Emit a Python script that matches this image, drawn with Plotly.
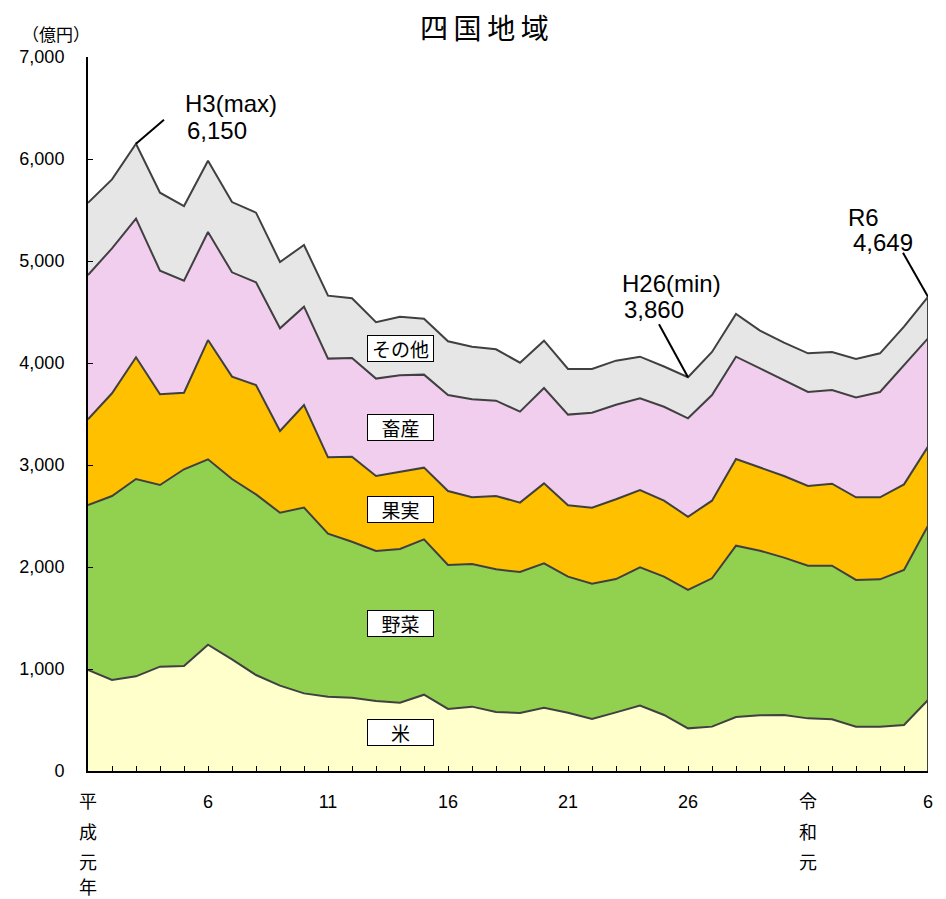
import plotly.graph_objects as go

# 平成元年 (i=0) ... 令和6年 (i=35)
years = list(range(36))
tick_vals = [0, 5, 10, 15, 20, 25, 30, 35]
tick_text = ["平", "6", "11", "16", "21", "26", "令", "6"]

rice = [990, 892, 928, 1023, 1029, 1238, 1095, 941, 837, 761, 729, 719, 686, 670, 748, 608, 631, 578,
        569, 621, 572, 510, 575, 641, 549, 418, 435, 529, 546, 549, 516, 507, 435, 435, 451, 696]
vegetables = [1618, 1804, 1935, 1781, 1929, 1818, 1768, 1771, 1695, 1821, 1598, 1529, 1471, 1506, 1523, 1412,
              1398, 1399, 1382, 1415, 1333, 1327, 1307, 1356, 1356, 1357, 1454, 1680, 1614, 1543, 1497, 1506,
              1438, 1444, 1520, 1709]
fruit = [840, 1007, 1193, 889, 751, 1169, 1003, 1072, 801, 1006, 748, 834, 735, 755, 703, 725, 654, 719,
         680, 784, 700, 745, 782, 758, 745, 718, 761, 850, 817, 800, 781, 804, 810, 804, 839, 775]
livestock = [1415, 1421, 1359, 1212, 1098, 1059, 1023, 1007, 1007, 964, 968, 967, 955, 948, 912, 941, 961,
             935, 892, 935, 889, 931, 927, 899, 921, 965, 1036, 1003, 971, 941, 922, 918, 980, 1033, 1170, 1062]
other = [707, 676, 735, 765, 732, 699, 689, 683, 650, 605, 617, 585, 553, 575, 548, 527, 516, 503, 480,
         464, 447, 428, 432, 408, 395, 402, 422, 418, 369, 366, 379, 373, 376, 379, 376, 407]

series_names = ["米", "野菜", "果実", "畜産", "その他"]
series_values = [rice, vegetables, fruit, livestock, other]
series_colors = ["#FFFFCC", "#92D050", "#FFC000", "#F2CEEE", "#E6E6E6"]
label_y = [377, 1448, 2559, 3365, 4147]

totals = [sum(v) for v in zip(*series_values)]

JP = "Noto Sans CJK JP"
NUM = "Liberation Sans, Noto Sans CJK JP"

fig = go.Figure()
for name, vals, col in zip(series_names, series_values, series_colors):
    fig.add_trace(go.Scatter(
        x=years, y=vals, name=name, stackgroup="one", mode="lines",
        line=dict(color="#404040", width=2), fillcolor=col, showlegend=False,
    ))

annotations = []
# series labels in boxes
for name, yv in zip(series_names, label_y):
    annotations.append(dict(
        x=13, y=yv, xref="x", yref="y", text=name, showarrow=False,
        font=dict(family=JP, size=19, color="black"),
        bgcolor="white", bordercolor="black", borderwidth=1, width=63, height=23,
    ))

# vertical era labels under the axis
for ch, ys in [("成", -60), ("元", -90), ("年", -115)]:
    annotations.append(dict(x=0, y=0, xref="x", yref="paper", yshift=ys, text=ch, showarrow=False,
                            font=dict(family=JP, size=18, color="black"), yanchor="middle"))
for ch, ys in [("和", -60), ("元", -90)]:
    annotations.append(dict(x=30, y=0, xref="x", yref="paper", yshift=ys, text=ch, showarrow=False,
                            font=dict(family=JP, size=18, color="black"), yanchor="middle"))

# title and unit
annotations.append(dict(x=0.4726, y=1, xref="paper", yref="paper", yshift=30,
                        text="四\u2009国\u2009地\u2009域",
                        showarrow=False, font=dict(family=JP, size=28, color="black"), yanchor="middle"))
annotations.append(dict(x=-0.038, y=1.0336, xref="paper", yref="paper", text="（億円）", showarrow=False,
                        font=dict(family=JP, size=17, color="black"), xanchor="center", yanchor="middle"))

# callouts
i_max = totals.index(max(totals))
i_min = totals.index(min(totals))
i_last = len(totals) - 1
callouts = [
    (i_max, "H3(max)", f"{totals[i_max]:,}", (3.96, 6549), (4.04, 6284), (28, 24)),
    (i_min, "H26(min)", f"{totals[i_min]:,}", (22.17, 4784), (22.25, 4520), (-29, 53)),
    (i_last, "R6", f"{totals[i_last]:,}", (31.58, 5431), (31.79, 5186), (-25, 44)),
]
shapes = []
for idx, t1, t2, p1, p2, (dx, dy) in callouts:
    annotations.append(dict(x=p1[0], y=p1[1], xref="x", yref="y", text=t1, showarrow=False,
                            xanchor="left", yanchor="middle", font=dict(family=NUM, size=24, color="black")))
    annotations.append(dict(x=p2[0], y=p2[1], xref="x", yref="y", text=t2, showarrow=False,
                            xanchor="left", yanchor="middle", font=dict(family=NUM, size=24, color="black")))
    shapes.append(dict(type="line", xref="x", yref="y", xsizemode="pixel", ysizemode="pixel",
                       xanchor=idx, yanchor=totals[idx], x0=0, y0=0, x1=dx, y1=dy,
                       line=dict(color="black", width=2)))

# right edge of the area
shapes.append(dict(type="line", xref="x", yref="y", x0=i_last, x1=i_last, y0=0, y1=totals[i_last],
                   line=dict(color="#404040", width=2)))

fig.update_layout(
    width=938, height=891,
    margin=dict(l=80, r=18, t=49, b=128),
    paper_bgcolor="white", plot_bgcolor="white",
    annotations=annotations, shapes=shapes,
    xaxis=dict(
        range=[0, 35], tickmode="array", tickvals=tick_vals, ticktext=tick_text,
        showgrid=False, zeroline=False, showline=True, linecolor="black", linewidth=2,
        ticks="inside", ticklen=5, tickcolor="black", tickwidth=1,
        ticklabelstandoff=13,
        tickfont=dict(family=NUM, size=18, color="black"),
        minor=dict(tickmode="linear", tick0=0, dtick=1, ticks="inside", ticklen=5,
                   tickcolor="black", tickwidth=1, showgrid=False),
    ),
    yaxis=dict(
        range=[0, 7000], dtick=1000, tickformat=",d",
        showgrid=False, zeroline=False, showline=True, linecolor="black", linewidth=2,
        ticks="inside", ticklen=5, tickcolor="black", tickwidth=1,
        ticklabelstandoff=18,
        tickfont=dict(family=NUM, size=18, color="black"),
    ),
)

fig.write_html("out.html")
